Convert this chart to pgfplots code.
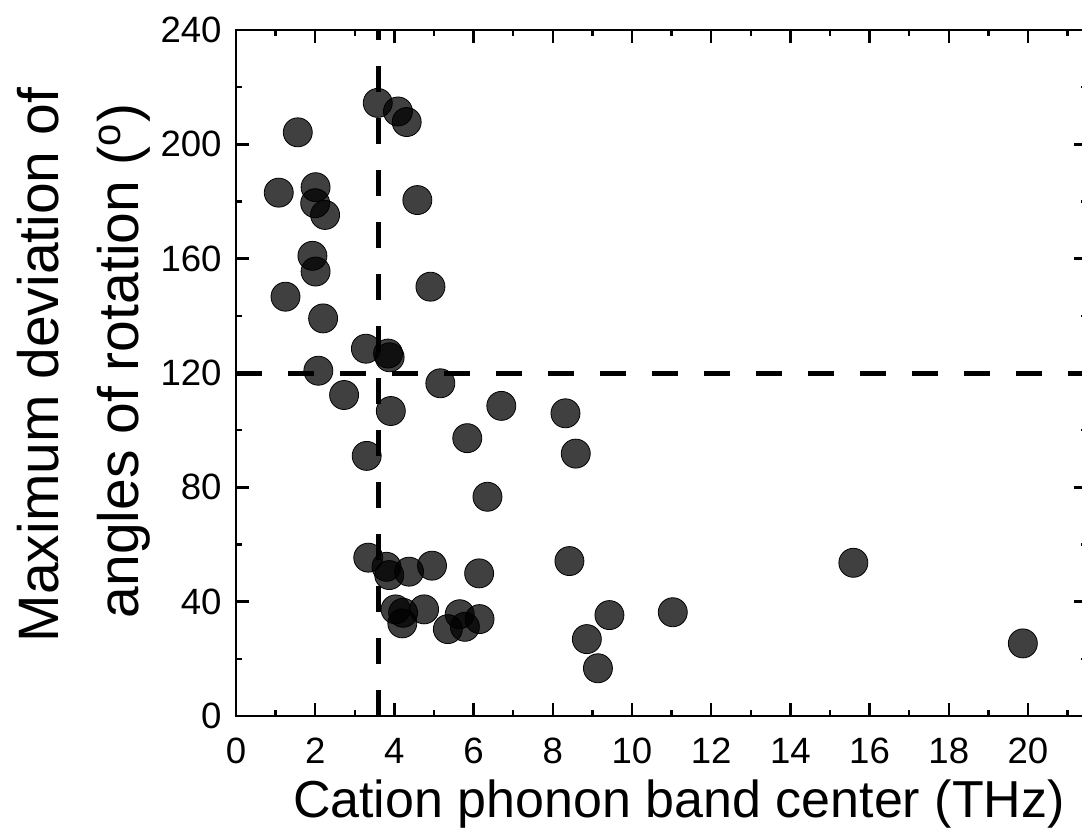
\documentclass[border=0pt]{standalone}
\usepackage{fontspec}
\setmainfont{Liberation Sans}
\usepackage{pgfplots}
\pgfplotsset{compat=1.18}
\begin{document}
\begin{tikzpicture}
\begin{axis}[
  scale only axis,
  width=425.7pt, height=343pt,
  xmin=0, xmax=21.5, ymin=0, ymax=240,
  xtick distance=2, ytick distance=40,
  minor x tick num=1, minor y tick num=1,
  tick align=inside,
  major tick length=6.5pt, minor tick length=3pt,
  every tick/.style={line width=1.2pt, black},
  axis line style={line width=1.2pt},
  /pgf/number format/assume math mode=true,
  ticklabel style={font=\fontsize{18.3}{22}\selectfont, inner sep=0pt},
  xticklabel shift=11pt,
  yticklabel shift=7pt,
  clip=false,
]
\addplot[only marks, mark=*, mark size=7.25pt,
  mark options={draw=none, fill=black, fill opacity=0.75}]
coordinates {
(1.08,183.1) (1.25,146.7) (1.56,204.2) (1.93,161.0) (2.01,185.0)
(2.00,179.4) (2.01,155.5) (2.25,175.3) (2.20,139.1) (2.08,120.8)
(2.73,112.3) (3.28,128.5) (3.30,91.0) (3.34,55.4) (3.58,214.5)
(4.09,211.5) (4.31,207.8) (4.58,180.5) (4.91,150.2) (3.84,126.8)
(3.88,125.5) (5.16,116.4) (3.91,106.7) (6.70,108.5) (5.84,97.2)
(8.32,105.9) (8.58,91.8) (6.35,76.7) (3.80,52.2) (3.87,49.3)
(4.37,50.5) (4.95,52.6) (6.14,49.9) (8.42,54.2) (4.03,37.3)
(4.22,36.1) (4.20,32.4) (4.75,37.3) (5.35,30.4) (5.65,35.6)
(5.78,31.2) (6.15,33.9) (9.43,35.3) (8.86,26.9) (9.14,16.7)
(11.03,36.3) (15.59,53.6) (19.87,25.4)
};
\addplot[black, line width=2.5pt, dash pattern=on 13pt off 13pt] coordinates {(3.61,0) (3.61,240)};
\addplot[black, line width=2.5pt, dash pattern=on 13pt off 13pt] coordinates {(0,120) (21.5,120)};
\coordinate (SW) at (rel axis cs:0,0);
\coordinate (NW) at (rel axis cs:0,1);
\node[rotate=90, anchor=base, font=\fontsize{28.5}{34}\selectfont] at ([xshift=-88.5pt,yshift=4pt]rel axis cs:0,0.5) {Maximum deviation of};
\node[rotate=90, anchor=base, font=\fontsize{28.5}{34}\selectfont] at ([xshift=-48.5pt,yshift=6pt]rel axis cs:0,0.5) {angles of rotation (\textsuperscript{o})};
\node[anchor=base, font=\fontsize{26}{31}\selectfont] at ([xshift=8.6pt,yshift=-50.5pt]rel axis cs:0.5,0) {Cation phonon band center (THz)};
\end{axis}
\pgfresetboundingbox
\path[use as bounding box] ([xshift=-118pt,yshift=-57pt]SW) rectangle ([xshift=423pt,yshift=15pt]NW);
\end{tikzpicture}
\end{document}
